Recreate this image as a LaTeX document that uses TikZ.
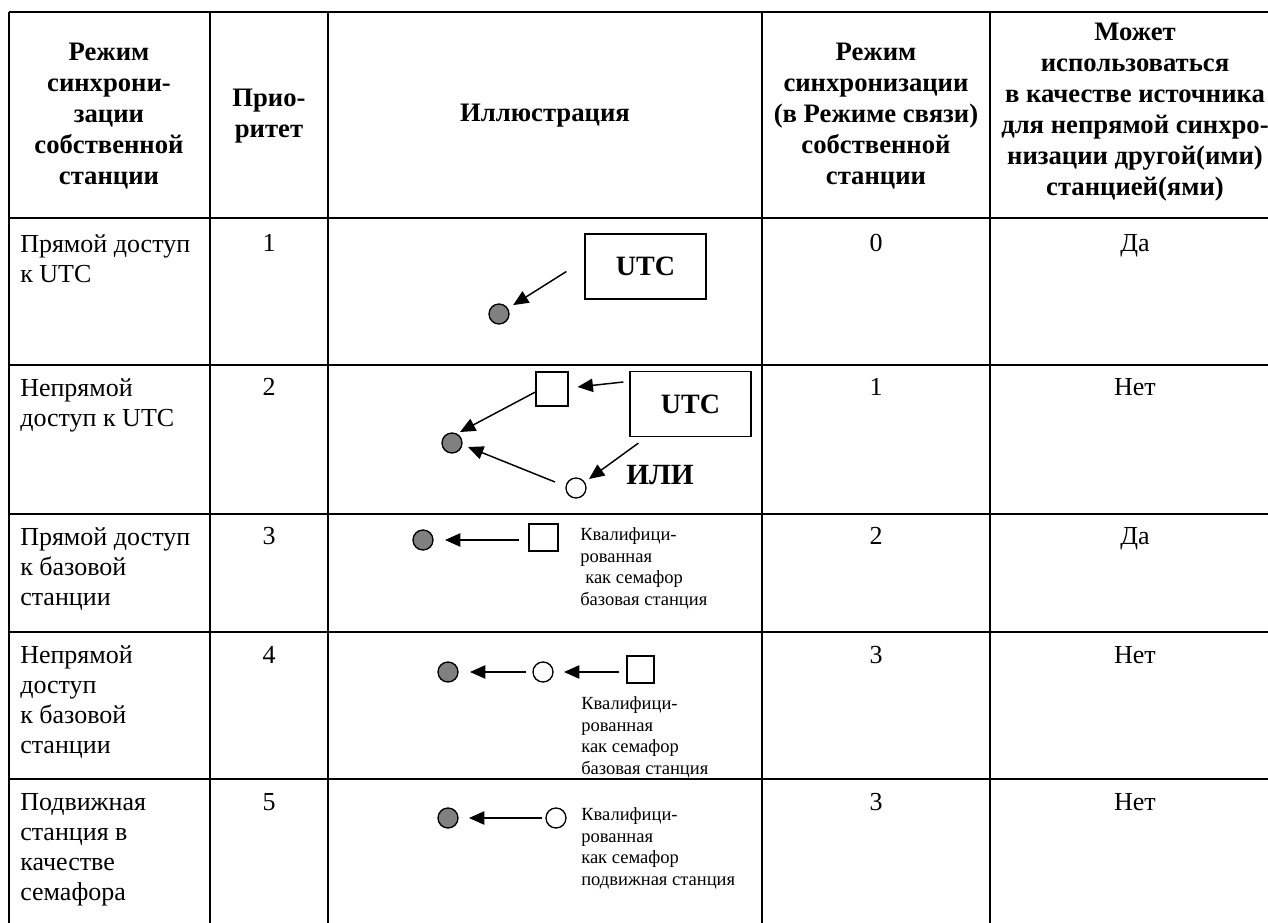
\documentclass[tikz,border=0pt]{standalone}
\usepackage{fontspec}
\setmainfont{Liberation Serif}
\usetikzlibrary{arrows.meta}
\definecolor{dotgray}{RGB}{128,128,128}
\newcommand{\fstrut}{\rule{0pt}{15pt}}
\newcommand{\nstrut}{\rule{0pt}{11pt}}
\begin{document}
\begin{tikzpicture}[x=0.75pt,y=-0.75pt,
  gridline/.style={line width=1.8pt},
  hdr/.style={font=\fontsize{20}{23.25}\selectfont\bfseries, align=center, inner sep=0},
  body/.style={font=\fontsize{19.5}{22.5}\selectfont, align=left, inner sep=0, anchor=north west},
  num/.style={font=\fontsize{19.5}{22.5}\selectfont, inner sep=0, anchor=base},
  note/.style={font=\fontsize{13.9}{16.1}\selectfont, align=left, inner sep=0, anchor=north west},
  dot/.style={circle, draw, fill=dotgray, minimum size=15pt, inner sep=0, line width=1pt},
  ring/.style={circle, draw, fill=white, minimum size=15pt, inner sep=0, line width=1pt},
  sq/.style={draw, inner sep=0, line width=0.9pt},
  utc/.style={draw, minimum width=90.75pt, minimum height=48.75pt, inner sep=0,
              font=\fontsize{21}{24}\selectfont\bfseries, line width=0.9pt},
  ili/.style={font=\fontsize{22}{24}\selectfont\bfseries, inner sep=0},
  arr/.style={-{Triangle[length=11.5pt,width=10pt]}, line width=1.1pt}
]
\useasboundingbox (0,0) rectangle (1268,923);

% table grid
\foreach \yy in {12,218,365,514,632,779}
  \draw[gridline] (9,\yy) -- (1268,\yy);
\foreach \xx in {9,210,328,762,990}
  \draw[gridline] (\xx,12) -- (\xx,923);

% header
\node[hdr] (h1) at (109,116) {Режим\\синхрони-\\зации\\собственной\\станции};
\node[hdr] (h2) at (269,116) {Прио-\\ритет};
\node[hdr] (h3) at (545,116) {Иллюстрация};
\node[hdr] (h4) at (876,116) {Режим\\синхронизации\\(в Режиме связи)\\собственной\\станции};
\node[hdr] (h5) at (1135,112) {Может\\использоваться\\в качестве источника\\для непрямой синхро-\\низации другой(ими)\\станцией(ями)};

% column 1
\node[body] (r1a) at (20,232) {\fstrut Прямой доступ\\к UTC};
\node[body] (r2a) at (20,376) {\fstrut Непрямой\\доступ к UTC};
\node[body] (r3a) at (20,525) {\fstrut Прямой доступ\\к базовой\\станции};
\node[body] (r4a) at (20,643) {\fstrut Непрямой\\доступ\\к базовой\\станции};
\node[body] (r5a) at (20,790) {\fstrut Подвижная\\станция в\\качестве\\семафора};

% column 2
\node[num] (r1b) at (269,252) {1};
\node[num] (r2b) at (269,396) {2};
\node[num] (r3b) at (269,545) {3};
\node[num] (r4b) at (269,663) {4};
\node[num] (r5b) at (269,810) {5};

% column 4
\node[num] (r1d) at (876,252) {0};
\node[num] (r2d) at (876,396) {1};
\node[num] (r3d) at (876,545) {2};
\node[num] (r4d) at (876,663) {3};
\node[num] (r5d) at (876,810) {3};

% column 5
\node[num] (r1e) at (1135,252) {Да};
\node[num] (r2e) at (1135,396) {Нет};
\node[num] (r3e) at (1135,545) {Да};
\node[num] (r4e) at (1135,663) {Нет};
\node[num] (r5e) at (1135,810) {Нет};

% row 1 illustration
\node[utc] (u1) at (645.5,266.5) {UTC};
\node[dot] (c1) at (499,314) {};
\draw[arr, shorten >=4.5pt] ([shift={(-18,5)}]u1.west) -- (c1);

% row 2 illustration
\node[sq, minimum width=24pt, minimum height=25.5pt] (s2) at (552,389) {};
\node[utc] (u2) at (690.5,404) {UTC};
\node[dot] (c2) at (452,443) {};
\node[ring] (o2) at (576,488) {};
\node[ili] (ili) at (660,475) {ИЛИ};
\draw[arr] ([shift={(-6,-22)}]u2.west) -- ([shift={(9,-2)}]s2.east);
\draw[arr] ([shift={(0,3)}]s2.west) -- ([shift={(8,-11)}]c2.center);
\draw[arr] ([shift={(-21,-6)}]o2.center) -- ([shift={(16,4)}]c2.center);
\draw[arr] ([shift={(9,6)}]u2.south west) -- ([shift={(13,-9)}]o2.center);

% row 3 illustration
\node[dot] (c3) at (423,540) {};
\node[sq, minimum width=21.75pt, minimum height=20.25pt] (s3) at (543.5,537.5) {};
\draw[arr] ([shift={(-9,2.5)}]s3.west) -- ([shift={(22,0)}]c3.center);
\node[note] (t3) at (580,526) {\nstrut Квалифици-\\рованная\\\hspace*{3.75pt}как семафор\\базовая станция};

% row 4 illustration
\node[dot] (c4) at (448,672) {};
\node[ring] (o4) at (543,672) {};
\node[sq, minimum width=20.25pt, minimum height=20.25pt] (s4) at (640.5,669.5) {};
\draw[arr] ([shift={(-7,2.5)}]s4.west) -- ([shift={(21,0)}]o4.center);
\draw[arr] ([shift={(-17,0)}]o4.center) -- ([shift={(22,0)}]c4.center);
\node[note] (t4) at (581,695) {\nstrut Квалифици-\\рованная\\как семафор\\базовая станция};

% row 5 illustration
\node[dot] (c5) at (448,818) {};
\node[ring] (o5) at (556,818) {};
\draw[arr] ([shift={(-14,0)}]o5.center) -- ([shift={(21,0)}]c5.center);
\node[note] (t5) at (581,806) {\nstrut Квалифици-\\рованная\\как семафор\\подвижная станция};
\end{tikzpicture}
\end{document}
